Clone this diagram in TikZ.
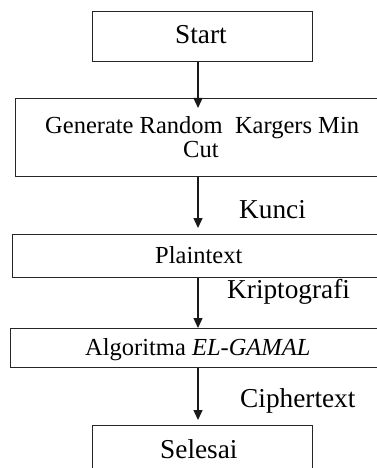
\documentclass[tikz,border=0pt]{standalone}
\usepackage{fontspec}
\setmainfont{Liberation Serif}
\usetikzlibrary{arrows.meta}
\begin{document}
\begin{tikzpicture}[x=1pt,y=-1pt,
  boxline/.style={draw=black!85,line width=1.3pt,rectangle,inner sep=0pt,anchor=north west},
  bigtxt/.style={inner sep=0pt,anchor=base west,font=\fontsize{27.3}{30}\selectfont},
  smalltxt/.style={inner sep=0pt,anchor=base west,font=\fontsize{24.5}{28}\selectfont},
  flow/.style={draw=black!90,line width=1.3pt,-{Triangle[width=9pt,length=10pt]}}]
\useasboundingbox (0,0) rectangle (377,468);
\clip (0,0) rectangle (377,468);
% boxes
\node[boxline,minimum width=220pt,minimum height=50pt] (start) at (92,11) {};
\node[boxline,minimum width=380pt,minimum height=78pt] (gen) at (15,98) {};
\node[boxline,minimum width=380pt,minimum height=43pt] (plain) at (12,234) {};
\node[boxline,minimum width=380pt,minimum height=39pt] (algo) at (10,328) {};
\node[boxline,minimum width=220pt,minimum height=60pt] (done) at (92,425) {};
% texts
\node[bigtxt] (tstart) at (175,44) {Start};
\node[smalltxt] (tgen1) at (45,133) {Generate Random\ \ Kargers Min};
\node[smalltxt] (tgen2) at (183,157) {Cut};
\node[smalltxt] (tplain) at (155,263) {Plaintext};
\node[smalltxt] (talgo) at (85,355) {Algoritma \textit{EL-GAMAL}};
\node[bigtxt] (tdone) at (160,458) {Selesai};
\node[bigtxt] (tkunci) at (239,218) {Kunci};
\node[bigtxt] (tkrip) at (227,298) {Kriptografi};
\node[bigtxt] (tcipher) at (240,407) {Ciphertext};
% connectors
\coordinate (ax) at (198,0);
\draw[flow,shorten >=-10pt] (start.south -| ax) -- (gen.north -| ax);
\draw[flow,shorten >=6pt] (gen.south -| ax) -- (plain.north -| ax);
\draw[flow] (plain.south -| ax) -- (algo.north -| ax);
\draw[flow,shorten >=5pt] (algo.south -| ax) -- (done.north -| ax);
\end{tikzpicture}
\end{document}
